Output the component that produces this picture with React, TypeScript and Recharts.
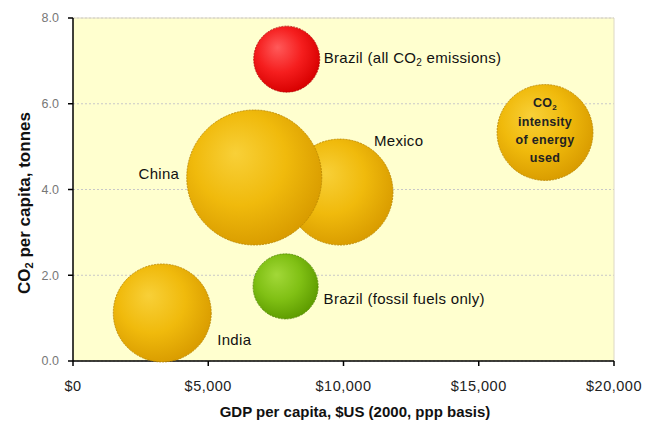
import React from 'react';
import { ScatterChart, Scatter, XAxis, YAxis, ZAxis, CartesianGrid, Label, ReferenceLine } from 'recharts';

// ---- data ----
const names = [
  'India',
  'Mexico',
  'China',
  'Brazil (all CO2 emissions)',
  'Brazil (fossil fuels only)',
  'CO2 intensity of energy used',
];
const gdpPerCapita = [3300, 9870, 6700, 7900, 7860, 17450];
const co2PerCapita = [1.12, 3.94, 4.28, 7.04, 1.74, 5.33];
const bubbleSize = [2.4, 2.81, 4.56, 1.09, 1.06, 2.3];
const kinds = ['gold', 'gold', 'gold', 'red', 'green', 'legend'];
const xTicks = [0, 5000, 10000, 15000, 20000];
const yTicks = [0, 2, 4, 6, 8];
const legendLines = ['CO2', 'intensity', 'of energy', 'used'];

const tableData = names.map((n, i) => ({
  name: n,
  x: gdpPerCapita[i],
  y: co2PerCapita[i],
  z: bubbleSize[i],
  kind: kinds[i],
}));

// ---- styles ----
const FONT = '"Liberation Sans", Arial, sans-serif';
const palettes: Record<string, string[]> = {
  gold: ['#F8D038', '#F0BA0C', '#D99C00', '#B88400'],
  legend: ['#F8D038', '#F0BA0C', '#D99C00', '#B88400'],
  red: ['#FF5A5A', '#F51E1E', '#D80000', '#B00000'],
  green: ['#A2D838', '#80C014', '#5E9C00', '#4E8400'],
};
const labelPlacement: Record<string, { dx: number; dy: number; anchor: string }> = {
  India: { dx: 55, dy: 27, anchor: 'start' },
  Mexico: { dx: 34, dy: -51, anchor: 'start' },
  China: { dx: -75, dy: -4, anchor: 'end' },
  'Brazil (all CO2 emissions)': { dx: 37, dy: -1, anchor: 'start' },
  'Brazil (fossil fuels only)': { dx: 38, dy: 12, anchor: 'start' },
};

function withSub(text: string, subSize: string) {
  const parts = text.split('CO2');
  const out: any[] = [];
  parts.forEach((p, i) => {
    if (i > 0) {
      out.push(<tspan key={'c' + i}>CO</tspan>);
      out.push(
        <tspan key={'s' + i} fontSize={subSize} dy={3}>
          2
        </tspan>
      );
      out.push(
        <tspan key={'r' + i} dy={-3}>
          {p}
        </tspan>
      );
    } else if (p) {
      out.push(<tspan key={'p' + i}>{p}</tspan>);
    }
  });
  return out;
}

const Bubble = (props: any) => {
  const { cx, cy, payload } = props;
  const r = props.width ? props.width / 2 : Math.sqrt((props.size || 0) / Math.PI);
  const kind = payload.kind;
  const pal = palettes[kind];
  const id = 'grad-' + names.indexOf(payload.name);
  const place = labelPlacement[payload.name];
  return (
    <g>
      <defs>
        <radialGradient id={id} cx="42%" cy="40%" r="62%" fx="36%" fy="32%">
          <stop offset="0%" stopColor={pal[0]} />
          <stop offset="55%" stopColor={pal[1]} />
          <stop offset="100%" stopColor={pal[2]} />
        </radialGradient>
      </defs>
      <circle cx={cx} cy={cy} r={r} fill={`url(#${id})`} stroke={pal[3]} strokeWidth={0.8} strokeDasharray="2 1" />
      {place && (
        <text
          x={cx + place.dx}
          y={cy + place.dy}
          dy="0.35em"
          textAnchor={place.anchor}
          fontFamily={FONT}
          fontSize={15}
          letterSpacing={0.3}
          fill="#111"
        >
          {withSub(payload.name, '10px')}
        </text>
      )}
      {kind === 'legend' &&
        legendLines.map((line, i) => (
          <text
            key={i}
            x={cx}
            y={cy - 29.5 + i * 18.3}
            dy="0.35em"
            textAnchor="middle"
            fontFamily={FONT}
            fontWeight="bold"
            fontSize={12.5}
            letterSpacing={0.3}
            fill="#222"
          >
            {withSub(line, '8px')}
          </text>
        ))}
    </g>
  );
};

const YTitle = (props: any) => {
  const cx = 24;
  const cy = 203;
  return (
    <text
      x={cx}
      y={cy}
      transform={`rotate(-90 ${cx} ${cy})`}
      textAnchor="middle"
      dy="0.35em"
      fontFamily={FONT}
      fontWeight="bold"
      fontSize={17}
      fill="#111"
    >
      {withSub('CO2 per capita, tonnes', '11px')}
    </text>
  );
};

const XTitle = (props: any) => {
  return (
    <text x={355} y={417} textAnchor="middle" fontFamily={FONT} fontWeight="bold" fontSize={15} fill="#111">
      GDP per capita, $US (2000, ppp basis)
    </text>
  );
};

export default function App() {
  return (
    <div style={{ position: 'absolute', left: 0, top: 0, background: '#fff' }}>
      <ScatterChart width={648} height={423} margin={{ top: 18, right: 34, bottom: 0, left: 0 }}>
        <CartesianGrid vertical={false} fill="#FFFFCF" stroke="#C8C8C8" strokeDasharray="2 2" />
        <ReferenceLine y={8} stroke="#DDD8C4" strokeWidth={1} />
        <ReferenceLine x={20000} stroke="#DDD8C4" strokeWidth={1} />
        <XAxis
          type="number"
          dataKey="x"
          domain={[0, 20000]}
          ticks={xTicks}
          interval={0}
          height={62}
          tickSize={5}
          tickMargin={15}
          axisLine={{ stroke: '#000', strokeWidth: 1.5 }}
          tickLine={{ stroke: '#000', strokeWidth: 1.5 }}
          tick={{ fill: '#222', fontSize: 14.5, fontFamily: FONT, letterSpacing: 0.5 }}
          tickFormatter={(v: number) => '$' + v.toLocaleString('en-US')}
        >
          <Label content={<XTitle />} />
        </XAxis>
        <YAxis
          type="number"
          dataKey="y"
          domain={[0, 8]}
          ticks={yTicks}
          interval={0}
          width={73}
          tickSize={5}
          tickMargin={9}
          axisLine={{ stroke: '#000', strokeWidth: 1.5 }}
          tickLine={{ stroke: '#000', strokeWidth: 1.5 }}
          tick={{ fill: '#777', fontSize: 12.5, fontFamily: FONT }}
          tickFormatter={(v: number) => v.toFixed(1)}
        >
          <Label content={<YTitle />} />
        </YAxis>
        <ZAxis type="number" dataKey="z" domain={[0, 5]} range={[0, 5000 * Math.PI]} />
        <Scatter data={tableData} shape={<Bubble />} isAnimationActive={false} />
      </ScatterChart>
    </div>
  );
}
